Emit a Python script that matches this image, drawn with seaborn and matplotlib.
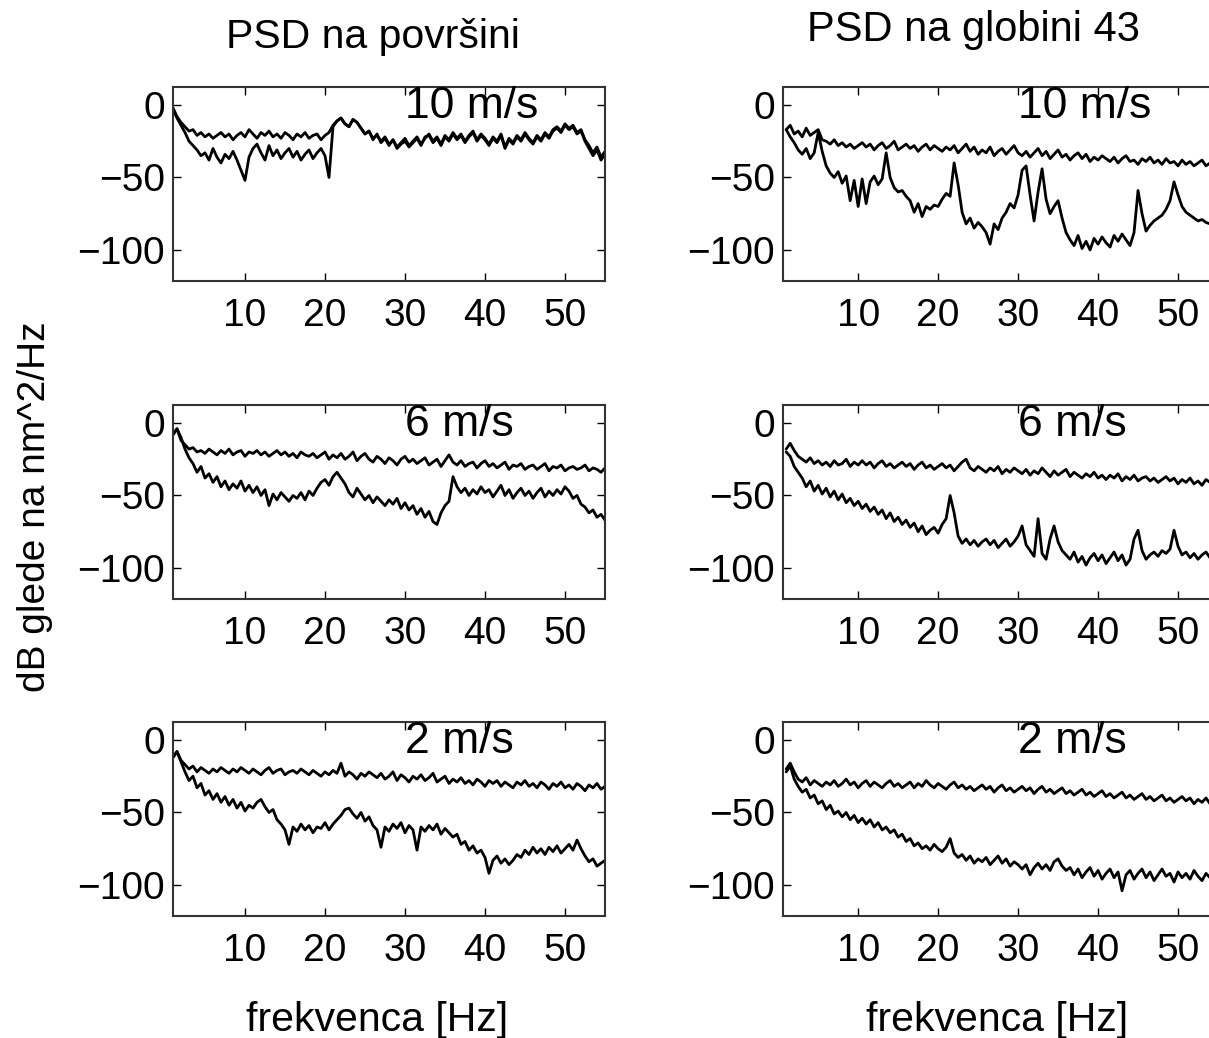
import numpy as np
import matplotlib
matplotlib.use("Agg")
import matplotlib.pyplot as plt
import seaborn as sns

# ---------------- data (dB, sampled every 0.5 Hz starting at 1 Hz) ----------------
speeds = ["10 m/s", "6 m/s", "2 m/s"]
col_titles = ["PSD na površini", "PSD na globini 43"]
x_ticks = [10, 20, 30, 40, 50]
y_ticks = [-100, -50, 0]

surf10_hi = [-2, -8, -12, -15, -18, -17, -21, -19, -22, -20,
             -23, -21, -19, -22, -20, -24, -21, -19, -22, -17,
             -20, -23, -19, -21, -18, -22, -20, -23, -19, -21,
             -24, -20, -22, -19, -23, -21, -20, -24, -21, -19,
             -14, -11, -9, -13, -15, -10, -12, -16, -20, -18,
             -23, -21, -25, -22, -27, -24, -29, -26, -23, -28,
             -25, -22, -27, -23, -20, -25, -22, -27, -21, -24,
             -19, -23, -20, -25, -21, -18, -24, -20, -23, -27,
             -22, -25, -20, -29, -23, -26, -21, -24, -19, -23,
             -26, -21, -24, -19, -22, -17, -15, -18, -13, -16,
             -14, -19, -17, -24, -28, -33, -29, -36, -32]
surf10_lo = [-3, -9, -14, -19, -25, -28, -31, -35, -33, -38,
             -30, -36, -40, -34, -37, -32, -38, -45, -52, -36,
             -30, -27, -33, -38, -28, -35, -31, -37, -33, -30,
             -36, -32, -38, -34, -31, -37, -33, -30, -35, -50,
             -15, -11, -9, -13, -15, -10, -12, -16, -20, -18,
             -24, -20, -26, -23, -28, -24, -30, -27, -25, -29,
             -26, -23, -28, -22, -21, -26, -23, -28, -22, -25,
             -20, -24, -21, -26, -22, -19, -25, -21, -24, -28,
             -23, -26, -21, -30, -24, -27, -22, -25, -20, -24,
             -27, -22, -25, -20, -23, -18, -16, -19, -14, -17,
             -15, -20, -18, -25, -30, -35, -31, -38, -34]

depth10_hi = [-17, -14, -20, -18, -22, -16, -21, -19, -17, -24,
              -25, -27, -24, -28, -26, -29, -27, -30, -28, -26,
              -29, -27, -31, -28, -26, -30, -28, -25, -31, -29,
              -27, -30, -28, -32, -29, -27, -31, -28, -30, -32,
              -29, -31, -28, -33, -30, -27, -32, -29, -34, -31,
              -33, -29, -35, -32, -30, -34, -31, -28, -33, -35,
              -32, -36, -33, -30, -35, -32, -37, -34, -31, -36,
              -34, -38, -35, -33, -37, -34, -39, -36, -38, -35,
              -37, -39, -36, -40, -37, -35, -39, -38, -41, -37,
              -39, -36, -40, -38, -41, -37, -40, -39, -42, -38,
              -41, -39, -42, -40, -38, -42, -40, -43, -41]
depth10_lo = [-17, -22, -26, -31, -34, -30, -37, -33, -19, -32,
              -42, -47, -50, -46, -54, -49, -66, -52, -70, -51,
              -68, -53, -49, -55, -51, -33, -50, -57, -60, -59,
              -63, -66, -74, -68, -77, -70, -72, -69, -70, -65,
              -61, -63, -40, -55, -74, -82, -78, -85, -81, -84,
              -88, -96, -82, -86, -78, -74, -68, -71, -62, -45,
              -42, -62, -80, -60, -44, -65, -75, -70, -66, -78,
              -88, -93, -97, -90, -99, -94, -100, -92, -96, -91,
              -95, -98, -90, -94, -89, -93, -97, -88, -59, -75,
              -87, -83, -80, -78, -76, -72, -66, -53, -62, -70,
              -74, -76, -78, -80, -79, -81, -82, -83, -82]

surf6_hi = [-8, -4, -12, -15, -18, -17, -20, -19, -21, -18,
            -20, -22, -19, -21, -18, -22, -20, -19, -23, -20,
            -21, -19, -22, -20, -23, -21, -19, -22, -20, -23,
            -21, -24, -20, -22, -23, -21, -24, -22, -20, -25,
            -22, -24, -21, -25, -23, -20, -26, -23, -21, -25,
            -27, -23, -25, -28, -24, -26, -29, -25, -23, -27,
            -25, -28, -26, -24, -29, -27, -25, -30, -26, -22,
            -27, -29, -26, -30, -28, -27, -31, -28, -26, -30,
            -28, -31, -29, -27, -32, -29, -30, -28, -32, -30,
            -29, -32, -30, -28, -33, -30, -31, -29, -33, -31,
            -30, -32, -31, -29, -33, -31, -32, -34, -31]
surf6_lo = [-8, -4, -10, -18, -24, -28, -34, -30, -38, -35,
            -41, -37, -44, -40, -46, -42, -45, -40, -47, -43,
            -48, -44, -50, -46, -57, -49, -53, -48, -51, -54,
            -50, -52, -48, -53, -47, -50, -45, -41, -39, -43,
            -37, -34, -38, -42, -48, -51, -45, -49, -53, -50,
            -55, -51, -54, -57, -53, -56, -52, -59, -55, -60,
            -57, -63, -59, -65, -61, -68, -70, -62, -57, -54,
            -37, -44, -48, -45, -50, -46, -49, -44, -48, -46,
            -51, -47, -43, -50, -46, -52, -48, -45, -50, -47,
            -52, -48, -45, -51, -47, -50, -46, -49, -44, -47,
            -52, -50, -56, -58, -62, -60, -65, -63, -67]

depth6_hi = [-18, -14, -19, -23, -25, -27, -24, -28, -26, -29,
             -27, -30, -26, -29, -28, -25, -30, -27, -29, -26,
             -29, -27, -31, -28, -26, -30, -28, -31, -29, -27,
             -30, -28, -32, -29, -27, -31, -29, -32, -30, -28,
             -31, -29, -33, -30, -27, -25, -31, -33, -30, -32,
             -34, -31, -33, -30, -35, -32, -34, -31, -33, -35,
             -32, -36, -33, -35, -31, -34, -37, -33, -36, -34,
             -32, -37, -34, -36, -38, -35, -37, -34, -38, -36,
             -39, -36, -38, -35, -40, -37, -39, -36, -40, -38,
             -37, -40, -38, -41, -39, -37, -40, -38, -42, -39,
             -41, -38, -42, -40, -43, -39, -41, -43, -40]
depth6_lo = [-20, -23, -30, -34, -38, -44, -40, -47, -43, -49,
             -45, -51, -47, -53, -49, -55, -52, -57, -54, -59,
             -56, -61, -58, -63, -60, -66, -62, -68, -65, -70,
             -67, -72, -69, -75, -71, -77, -74, -72, -76, -70,
             -66, -50, -62, -78, -83, -80, -84, -81, -85, -82,
             -80, -84, -81, -86, -83, -80, -85, -82, -78, -71,
             -84, -88, -92, -66, -90, -94, -80, -71, -82, -88,
             -91, -94, -89, -96, -92, -98, -93, -90, -95, -91,
             -97, -93, -89, -95, -91, -98, -94, -80, -74, -88,
             -94, -91, -89, -92, -88, -90, -87, -74, -85, -91,
             -89, -93, -90, -94, -91, -89, -93, -90, -92]

surf2_hi = [-12, -8, -14, -17, -20, -18, -22, -19, -21, -23,
            -20, -22, -19, -21, -23, -20, -22, -19, -21, -23,
            -20, -22, -24, -21, -19, -23, -21, -20, -24, -22,
            -21, -23, -20, -22, -24, -21, -23, -25, -22, -24,
            -21, -23, -16, -25, -22, -24, -27, -23, -25, -22,
            -24, -26, -23, -27, -25, -22, -28, -24, -26, -29,
            -25, -27, -24, -28, -26, -23, -29, -27, -25, -30,
            -27, -29, -26, -30, -28, -31, -27, -29, -32, -28,
            -30, -28, -32, -29, -31, -33, -29, -31, -28, -32,
            -30, -33, -29, -31, -34, -30, -32, -29, -33, -31,
            -34, -30, -32, -35, -31, -33, -30, -34, -32]
surf2_lo = [-12, -8, -15, -22, -28, -25, -33, -30, -38, -35,
            -41, -37, -43, -39, -45, -41, -47, -43, -49, -45,
            -47, -43, -41, -46, -50, -48, -55, -58, -62, -72,
            -60, -63, -58, -62, -59, -64, -60, -61, -57, -62,
            -58, -55, -52, -48, -47, -51, -54, -50, -56, -53,
            -59, -62, -74, -60, -63, -58, -61, -57, -64, -59,
            -62, -76, -60, -63, -59, -62, -58, -65, -61, -64,
            -67, -65, -72, -70, -76, -73, -78, -76, -81, -92,
            -83, -80, -85, -82, -86, -83, -79, -81, -76, -79,
            -74, -78, -75, -79, -74, -77, -73, -78, -75, -72,
            -76, -69, -75, -80, -84, -82, -87, -85, -83]

depth2_hi = [-20, -16, -22, -27, -29, -26, -31, -28, -30, -32,
             -29, -31, -28, -32, -30, -27, -31, -29, -33, -30,
             -28, -32, -29, -31, -33, -30, -28, -32, -30, -33,
             -31, -29, -33, -30, -32, -28, -31, -33, -30, -32,
             -34, -31, -29, -33, -31, -34, -32, -35, -33, -31,
             -34, -32, -36, -33, -31, -35, -33, -36, -34, -32,
             -35, -33, -37, -34, -32, -36, -34, -37, -35, -33,
             -37, -35, -38, -36, -34, -38, -36, -39, -37, -35,
             -39, -37, -40, -38, -36, -40, -38, -41, -39, -37,
             -41, -39, -42, -40, -38, -42, -40, -43, -41, -39,
             -42, -40, -44, -41, -43, -40, -44, -42, -43]
depth2_lo = [-22, -18, -27, -32, -36, -34, -40, -38, -44, -42,
             -48, -45, -51, -49, -53, -50, -55, -52, -57, -54,
             -58, -55, -60, -57, -62, -60, -64, -62, -67, -65,
             -70, -68, -73, -71, -75, -73, -76, -72, -75, -77,
             -74, -68, -78, -81, -79, -83, -80, -85, -82, -84,
             -81, -86, -83, -80, -85, -82, -87, -84, -86, -89,
             -86, -93, -88, -85, -89, -86, -90, -84, -82, -87,
             -90, -88, -93, -89, -95, -91, -88, -94, -90, -96,
             -92, -89, -95, -91, -104, -93, -90, -96, -92, -89,
             -95, -91, -97, -93, -89, -94, -92, -98, -91, -95,
             -92, -96, -90, -94, -97, -92, -95, -93, -96]

panels = [
    [(surf10_hi, surf10_lo), (depth10_hi, depth10_lo)],
    [(surf6_hi, surf6_lo), (depth6_hi, depth6_lo)],
    [(surf2_hi, surf2_lo), (depth2_hi, depth2_lo)],
]

# ---------------- figure ----------------
sns.set_theme(style="white")
plt.rcParams["font.family"] = ["Liberation Sans", "DejaVu Sans"]

W, H = 1209, 1038
fig = plt.figure(figsize=(W / 100, H / 100), dpi=100)
fig.patch.set_facecolor("white")

col_left = [173, 783]
col_width = [432, 435]
col_xlim = [(1, 55), (0.6, 55)]
row_top = [87, 405, 722]
row_h = 194

for r in range(3):
    for c in range(2):
        left = col_left[c] / W
        bottom = 1 - (row_top[r] + row_h) / H
        ax = fig.add_axes([left, bottom, col_width[c] / W, row_h / H])
        hi, lo = panels[r][c]
        for series in (hi, lo):
            xs = 1 + 0.5 * np.arange(len(series))
            sns.lineplot(x=xs, y=series, ax=ax, color="black", linewidth=2.0,
                         estimator=None, sort=False)
        ax.set_xlim(*col_xlim[c])
        ax.set_ylim(-121.4, 12.4)
        ax.set_xticks(x_ticks)
        ax.set_yticks(y_ticks)
        ax.set_yticklabels(["\u2212100", "\u221250", "0"])
        ax.tick_params(direction="in", length=6, width=1.0, colors="black",
                       labelsize=28, top=True, right=True, bottom=True, left=True)
        ax.tick_params(axis="x", pad=12)
        ax.tick_params(axis="y", pad=6)
        for sp in ax.spines.values():
            sp.set_visible(True)
            sp.set_color("#333333")
            sp.set_linewidth(1.5)
        ax.set_xlabel("")
        ax.set_ylabel("")
        ax.text(30, -1, speeds[r], ha="left", va="center", fontsize=32,
                color="black")

fig.text(373 / W, 1 - 48 / H, col_titles[0], ha="center", va="baseline",
         fontsize=29.5, color="black")
fig.text(973 / W, 1 - 41 / H, col_titles[1], ha="center", va="baseline",
         fontsize=30, color="black")
fig.text(377 / W, 1 - 1031 / H, "frekvenca [Hz]", ha="center", va="baseline",
         fontsize=29.5, color="black")
fig.text(997 / W, 1 - 1031 / H, "frekvenca [Hz]", ha="center", va="baseline",
         fontsize=29.5, color="black")
fig.text(35 / W, 1 - 507 / H, "dB glede na nm^2/Hz", ha="center", va="center",
         rotation=90, fontsize=28, color="black")

fig.savefig("out.png", dpi=100, facecolor="white")
